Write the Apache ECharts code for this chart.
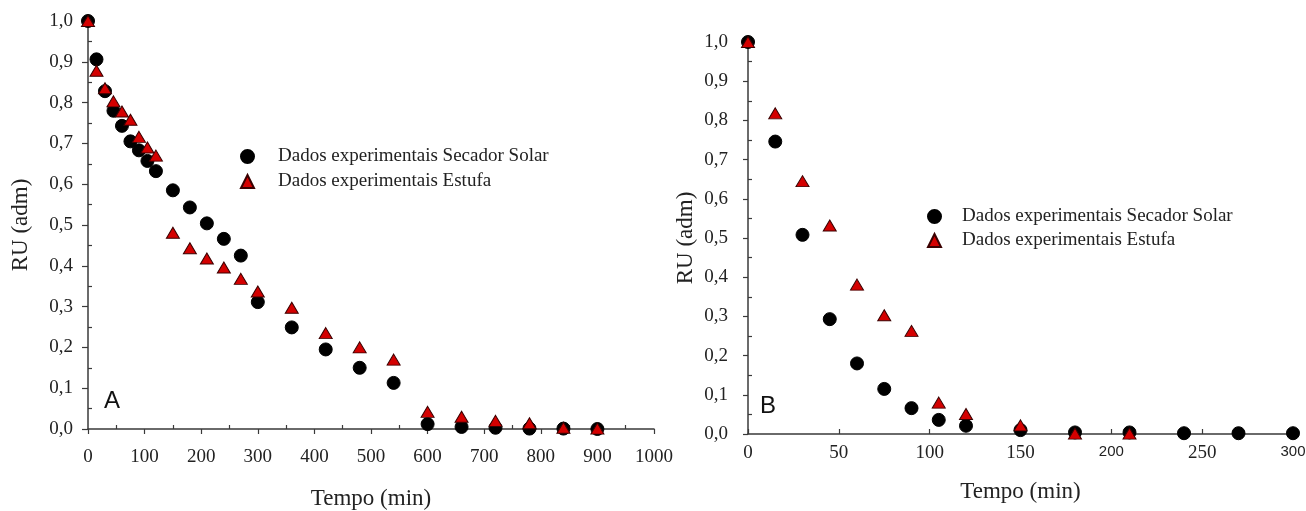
<!DOCTYPE html>
<html>
<head>
<meta charset="utf-8">
<script src="https://cdn.jsdelivr.net/npm/echarts@6/dist/echarts.min.js"></script>
<style>
  html, body { margin: 0; padding: 0; background: #fff; }
  #chart { width: 1306px; height: 511px; }
</style>
</head>
<body>
<div id="chart"></div>
<script>
// painel A
var tempoA = [0, 15, 30, 45, 60, 75, 90, 105, 120, 150, 180, 210, 240, 270, 300, 360, 420, 480, 540, 600, 660, 720, 780, 840, 900];
var solarA = [1.0, 0.906, 0.828, 0.780, 0.743, 0.705, 0.683, 0.657, 0.632, 0.585, 0.543, 0.504, 0.466, 0.425, 0.311, 0.249, 0.195, 0.150, 0.113, 0.012, 0.005, 0.003, 0.001, 0.001, 0.0];
var estufaA = [1.0, 0.878, 0.835, 0.803, 0.778, 0.758, 0.716, 0.690, 0.670, 0.481, 0.443, 0.418, 0.396, 0.368, 0.337, 0.297, 0.235, 0.200, 0.170, 0.042, 0.030, 0.020, 0.014, 0.003, 0.001];
// painel B
var tempoB = [0, 15, 30, 45, 60, 75, 90, 105, 120, 150, 180, 210, 240, 270, 300];
var solarB = [1.0, 0.746, 0.508, 0.293, 0.180, 0.115, 0.066, 0.036, 0.021, 0.010, 0.004, 0.004, 0.002, 0.002, 0.002];
var tempoEstufaB = [0, 15, 30, 45, 60, 75, 90, 105, 120, 150, 180, 210];
var estufaB = [1.0, 0.818, 0.645, 0.532, 0.381, 0.303, 0.263, 0.080, 0.051, 0.022, 0.001, 0.001];

// ticks menores (para dentro)
var minorXA = [50, 150, 250, 350, 450, 550, 650, 750, 850, 950];
var minorY = [0.05, 0.15, 0.25, 0.35, 0.45, 0.55, 0.65, 0.75, 0.85, 0.95];

var nomeSolar = 'Dados experimentais Secador Solar';
var nomeEstufa = 'Dados experimentais Estufa';

var serif = "'Liberation Serif', 'Times New Roman', serif";
var corEixo = '#3a3a3a';

function pares(xs, ys) {
	var out = [];
	for (var i = 0; i < xs.length; i++) {
		out.push([xs[i], ys[i]]);
	}
	return out;
}
function virgula(v) {
	return v.toFixed(1).replace('.', ',');
}

var eixoLinha = { show: true, lineStyle: { color: corEixo, width: 1.5 } };

var myChart = echarts.init(document.getElementById('chart'));
var option = {
	backgroundColor: '#fff',
	animation: false,
	grid: [
		{ left: 88, right: 652, top: 21, bottom: 82, outerBoundsMode: 'none' },
		{ left: 748, right: 13, top: 42, bottom: 77, outerBoundsMode: 'none' }
	],
	xAxis: [
		{
			gridIndex: 0, type: 'value', min: 0, max: 1000, interval: 100,
			axisLine: eixoLinha,
			axisTick: { show: true, inside: false, length: 5, lineStyle: { color: corEixo, width: 1.2 } },
			axisLabel: { margin: 19, fontFamily: serif, fontSize: 19, color: '#222', formatter: function(v) { return String(v); } },
			splitLine: { show: false },
			name: 'Tempo (min)', nameLocation: 'middle', nameGap: 58,
			nameTextStyle: { fontFamily: serif, fontSize: 23, color: '#222' }
		},
		{
			gridIndex: 0, type: 'value', min: 0, max: 1000, position: 'bottom',
			axisLine: { show: false },
			axisTick: { show: true, inside: true, length: 4, customValues: minorXA, lineStyle: { color: corEixo, width: 1.2 } },
			axisLabel: { show: false },
			splitLine: { show: false }
		},
		{
			gridIndex: 1, type: 'value', min: 0, max: 300, interval: 50,
			axisLine: eixoLinha,
			axisTick: { show: true, inside: true, length: 5, lineStyle: { color: corEixo, width: 1.2 } },
			axisLabel: {
				margin: 10, fontFamily: serif, fontSize: 19, color: '#222',
				formatter: function(v) {
					if (v == 200 || v == 300) return '{s|' + v + '}';
					return String(v);
				},
				rich: { s: { fontFamily: "'Liberation Sans', Arial, sans-serif", fontSize: 15, color: '#222' } }
			},
			splitLine: { show: false },
			name: 'Tempo (min)', nameLocation: 'middle', nameGap: 46,
			nameTextStyle: { fontFamily: serif, fontSize: 23, color: '#222' }
		}
	],
	yAxis: [
		{
			gridIndex: 0, type: 'value', min: 0, max: 1, interval: 0.1,
			axisLine: eixoLinha,
			axisTick: { show: true, inside: false, length: 6, lineStyle: { color: corEixo, width: 1.2 } },
			axisLabel: { margin: 15, fontFamily: serif, fontSize: 19, color: '#222', formatter: virgula },
			splitLine: { show: false },
			name: 'RU (adm)', nameLocation: 'middle', nameGap: 56,
			nameTextStyle: { fontFamily: serif, fontSize: 23, color: '#222' }
		},
		{
			gridIndex: 0, type: 'value', min: 0, max: 1, position: 'left',
			axisLine: { show: false },
			axisTick: { show: true, inside: true, length: 4, customValues: minorY, lineStyle: { color: corEixo, width: 1.2 } },
			axisLabel: { show: false },
			splitLine: { show: false }
		},
		{
			gridIndex: 1, type: 'value', min: 0, max: 1, interval: 0.1,
			axisLine: eixoLinha,
			axisTick: { show: true, inside: false, length: 5, lineStyle: { color: corEixo, width: 1.2 } },
			axisLabel: { margin: 20, fontFamily: serif, fontSize: 19, color: '#222', formatter: virgula },
			splitLine: { show: false },
			name: 'RU (adm)', nameLocation: 'middle', nameGap: 51,
			nameTextStyle: { fontFamily: serif, fontSize: 23, color: '#222' }
		},
		{
			gridIndex: 1, type: 'value', min: 0, max: 1, position: 'left',
			axisLine: { show: false },
			axisTick: { show: true, inside: true, length: 4, customValues: minorY, lineStyle: { color: corEixo, width: 1.2 } },
			axisLabel: { show: false },
			splitLine: { show: false }
		}
	],
	legend: [
		{
			orient: 'vertical', left: 240, top: 147, padding: 0, itemWidth: 13, itemHeight: 13, itemGap: 6,
			textStyle: { fontFamily: serif, fontSize: 19, color: '#222', padding: [0, 0, 0, 19] },
			data: [{ name: nomeSolar, icon: 'circle' }, { name: nomeEstufa, icon: 'triangle' }]
		},
		{
			orient: 'vertical', left: 927, top: 207, padding: 0, itemWidth: 13, itemHeight: 13, itemGap: 5,
			textStyle: { fontFamily: serif, fontSize: 19, color: '#222', padding: [0, 0, 0, 16] },
			data: [{ name: nomeSolar, icon: 'circle' }, { name: nomeEstufa, icon: 'triangle' }]
		}
	],
	graphic: [
		{ type: 'text', left: 104, top: 389, style: { text: 'A', font: "24px 'Liberation Sans', Arial, sans-serif", fill: '#111' } },
		{ type: 'text', left: 760, top: 394, style: { text: 'B', font: "24px 'Liberation Sans', Arial, sans-serif", fill: '#111' } }
	],
	series: [
		{
			name: nomeSolar, type: 'scatter', xAxisIndex: 0, yAxisIndex: 0, clip: false,
			symbol: 'circle', symbolSize: 13,
			itemStyle: { color: '#000', borderColor: '#000', borderWidth: 1, opacity: 1 },
			data: pares(tempoA, solarA)
		},
		{
			name: nomeEstufa, type: 'scatter', xAxisIndex: 0, yAxisIndex: 0, clip: false,
			symbol: 'triangle', symbolSize: [13, 11],
			itemStyle: { color: '#d40000', borderColor: '#3a0000', borderWidth: 1, opacity: 1 },
			data: pares(tempoA, estufaA)
		},
		{
			name: nomeSolar, type: 'scatter', xAxisIndex: 2, yAxisIndex: 2, clip: false,
			symbol: 'circle', symbolSize: 13,
			itemStyle: { color: '#000', borderColor: '#000', borderWidth: 1, opacity: 1 },
			data: pares(tempoB, solarB)
		},
		{
			name: nomeEstufa, type: 'scatter', xAxisIndex: 2, yAxisIndex: 2, clip: false,
			symbol: 'triangle', symbolSize: [13, 11],
			itemStyle: { color: '#d40000', borderColor: '#3a0000', borderWidth: 1, opacity: 1 },
			data: pares(tempoEstufaB, estufaB)
		}
	]
};
myChart.setOption(option);
</script>
</body>
</html>
